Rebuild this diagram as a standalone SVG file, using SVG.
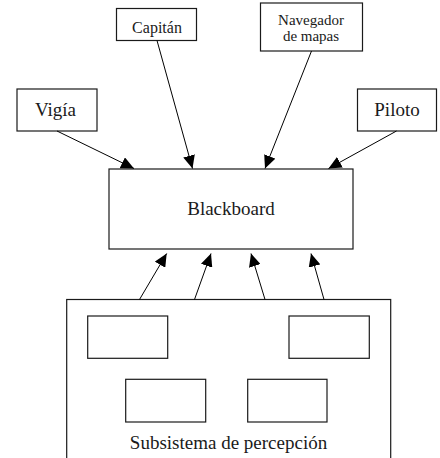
<svg xmlns="http://www.w3.org/2000/svg" width="440" height="458" viewBox="0 0 440 458">
  <style>
    .box { fill: #ffffff; stroke: #1a1a1a; stroke-width: 1.2; }
    .lbl { fill: #1a1a1a; text-anchor: middle; }
    .big { font-size: 19px; }
    .small { font-size: 16px; }
    .pair { font-size: 15px; }
    .edge { stroke: #000000; stroke-width: 1; fill: none; marker-end: url(#arrow); }
  </style>
  <defs>
    <marker id="arrow" markerUnits="userSpaceOnUse" markerWidth="14" markerHeight="12" refX="13" refY="6" orient="auto">
      <path d="M0,0 L13,6 L0,12 Z" fill="#000000"/>
    </marker>
  </defs>
  <rect width="440" height="458" fill="#ffffff"/>

  <!-- all labels use one serif family -->
  <g font-family="Liberation Serif, DejaVu Serif, serif">
    <g id="capitan">
      <rect class="box" x="116.5" y="8.5" width="80" height="32"/>
      <text class="lbl small" x="157" y="33">Capitán</text>
    </g>
    <g id="navegador">
      <rect class="box" x="260.5" y="3" width="102" height="48"/>
      <text class="lbl pair" x="311" y="24.5">Navegador</text>
      <text class="lbl pair" x="311" y="40.5">de mapas</text>
    </g>
    <g id="vigia">
      <rect class="box" x="17" y="89" width="80" height="42"/>
      <text class="lbl big" x="55.5" y="116">Vigía</text>
    </g>
    <g id="piloto">
      <rect class="box" x="357.5" y="89" width="79" height="42"/>
      <text class="lbl big" x="397" y="116">Piloto</text>
    </g>
    <g id="blackboard">
      <rect class="box" x="109" y="169" width="244" height="80"/>
      <text class="lbl big" x="231" y="215">Blackboard</text>
    </g>
    <g id="percepcion">
      <rect class="box" x="66.7" y="299.5" width="324" height="180"/>
      <rect class="box" x="87.7" y="316" width="80" height="42.3"/>
      <rect class="box" x="289" y="316" width="80.3" height="42.3"/>
      <rect class="box" x="125.7" y="379.3" width="80" height="42.7"/>
      <rect class="box" x="247.7" y="379.3" width="79.3" height="42.7"/>
      <text class="lbl big" x="228.5" y="449" font-size="19.5">Subsistema de percepción</text>
    </g>
  </g>

  <g id="connectors">
    <line class="edge" x1="57" y1="131" x2="134" y2="168.5"/>
    <line class="edge" x1="157" y1="40.5" x2="192.5" y2="168.5"/>
    <line class="edge" x1="311.5" y1="51" x2="265" y2="168.5"/>
    <line class="edge" x1="396.5" y1="131" x2="328.5" y2="168.5"/>
    <line class="edge" x1="139.5" y1="299.5" x2="166.7" y2="253.5"/>
    <line class="edge" x1="194.5" y1="299.5" x2="211" y2="253.5"/>
    <line class="edge" x1="265" y1="299.5" x2="251" y2="253.5"/>
    <line class="edge" x1="324" y1="299.5" x2="311" y2="253.5"/>
  </g>
</svg>
